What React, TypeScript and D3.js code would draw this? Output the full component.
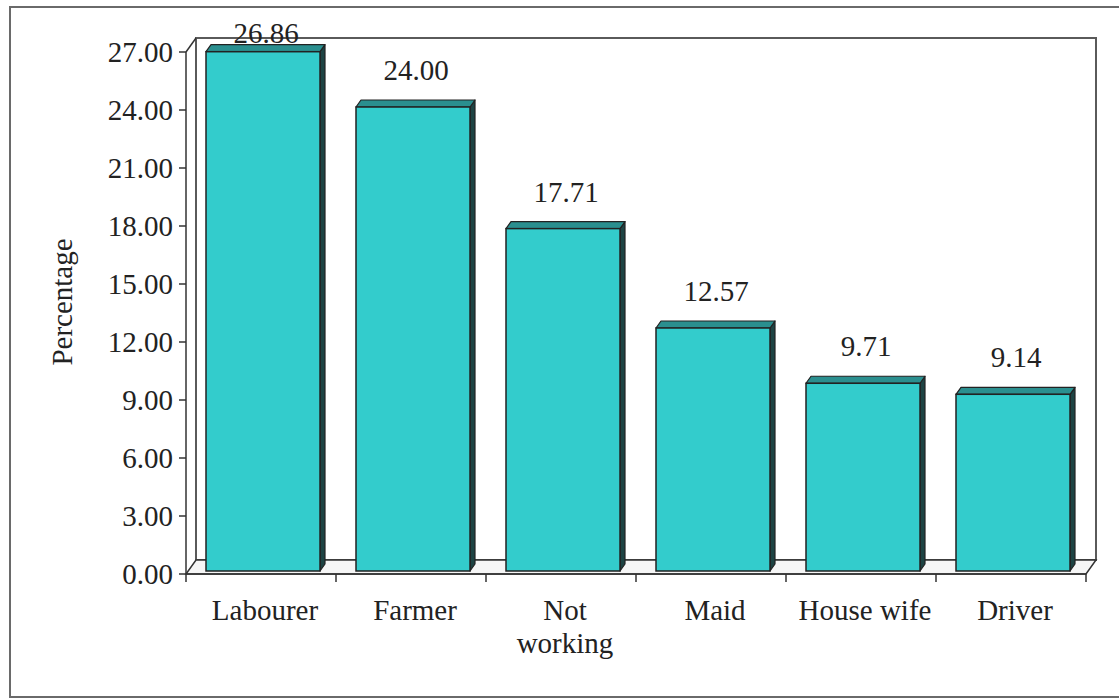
import React from "react";
import * as d3 from "d3";

// Occupation shares (percent)
const categories: string[] = ["Labourer", "Farmer", "Not working", "Maid", "House wife", "Driver"];
const values: number[] = [26.86, 24.0, 17.71, 12.57, 9.71, 9.14];
const yTicks: number[] = [0, 3, 6, 9, 12, 15, 18, 21, 24, 27];

const W = 1119;
const H = 698;
const FONT = "Liberation Serif, Times New Roman, serif";
const FS = 29;

// front plane of the 3D plot
const left = 186;
const right = 1086;
const bottom = 574;
const top = 52;
// depth of the back wall and of each column
const wallDX = 10;
const wallDY = -14;
const faceDX = 2;
const faceDY = -3;
const barDX = 5;
const barDY = -7;

const TEAL = "#33CCCC";
const TEAL_TOP = "#2A8F8F";
const TEAL_SIDE = "#1E4444";
const EDGE = "#222";
const INK = "#222";

export default function App() {
  const y = d3.scaleLinear().domain([0, 27]).range([bottom, top]);
  const x = d3
    .scaleBand<string>()
    .domain(categories)
    .range([left, right])
    .paddingInner(0.24)
    .paddingOuter(0.12);
  const slot = d3.scaleBand<string>().domain(categories).range([left, right]).padding(0);
  const bw = x.bandwidth();

  const pts = (p: [number, number][]) => p.map((d) => d.join(",")).join(" ");

  return (
    <svg
      width={W}
      height={H}
      style={{ position: "absolute", left: 0, top: 0, background: "#fff" }}
    >
      {/* outer frame */}
      <rect x={10} y={7} width={1130} height={690} fill="#fff" stroke="#6a6a6a" strokeWidth={2} />

      {/* back wall */}
      <rect
        x={left + wallDX}
        y={top + wallDY}
        width={right - left}
        height={bottom - top}
        fill="#fff"
        stroke="#5a5a5a"
        strokeWidth={2}
      />
      {/* side wall edge */}
      <line x1={left} y1={top} x2={left + wallDX} y2={top + wallDY} stroke="#333" strokeWidth={1.5} />
      {/* floor */}
      <polygon
        points={pts([
          [left, bottom],
          [right, bottom],
          [right + wallDX, bottom + wallDY],
          [left + wallDX, bottom + wallDY],
        ])}
        fill="#f6f6f6"
        stroke="#333"
        strokeWidth={1.5}
      />

      {/* y axis */}
      <line x1={left} y1={top} x2={left} y2={bottom} stroke="#333" strokeWidth={1.5} />
      {yTicks.map((t) => (
        <g key={t}>
          <line x1={left - 7} x2={left} y1={y(t)} y2={y(t)} stroke="#333" strokeWidth={1.5} />
          <text
            x={173}
            y={y(t)}
            dy="0.35em"
            textAnchor="end"
            fontSize={FS}
            fontFamily={FONT}
            fill={INK}
          >
            {t.toFixed(2)}
          </text>
        </g>
      ))}
      <text
        transform={`translate(62,302) rotate(-90)`}
        textAnchor="middle"
        dy="0.35em"
        fontSize={FS}
        fontFamily={FONT}
        fill={INK}
      >
        Percentage
      </text>

      {/* x axis */}
      <line x1={left} x2={right} y1={bottom} y2={bottom} stroke="#333" strokeWidth={1.5} />
      {[...categories.map((c) => slot(c) as number), right].map((tx, i) => (
        <line key={i} x1={tx} x2={tx} y1={bottom} y2={bottom + 8} stroke="#333" strokeWidth={1.5} />
      ))}

      {/* columns */}
      {categories.map((c, i) => {
        const v = values[i];
        const x0 = (x(c) as number) + faceDX;
        const x1 = x0 + bw;
        const yb = bottom + faceDY;
        const yt = y(v) + faceDY;
        const capTop = yt + barDY;
        const labelY = Math.max(capTop - 20, 43);
        return (
          <g key={c}>
            {/* side */}
            <polygon
              points={pts([
                [x1, yt],
                [x1 + barDX, yt + barDY],
                [x1 + barDX, yb + barDY],
                [x1, yb],
              ])}
              fill={TEAL_SIDE}
              stroke={EDGE}
              strokeWidth={1.2}
              strokeLinejoin="round"
            />
            {/* top */}
            <polygon
              points={pts([
                [x0, yt],
                [x0 + barDX, yt + barDY],
                [x1 + barDX, yt + barDY],
                [x1, yt],
              ])}
              fill={TEAL_TOP}
              stroke={EDGE}
              strokeWidth={1.2}
              strokeLinejoin="round"
            />
            {/* front */}
            <rect x={x0} y={yt} width={bw} height={yb - yt} fill={TEAL} stroke={EDGE} strokeWidth={1.5} />
            <text
              x={x0 + bw / 2 + 3}
              y={labelY}
              textAnchor="middle"
              fontSize={FS}
              fontFamily={FONT}
              fill={INK}
            >
              {v.toFixed(2)}
            </text>
          </g>
        );
      })}

      {/* category labels */}
      {categories.map((c) => {
        const cx = (slot(c) as number) + slot.bandwidth() / 2 + 4;
        const lines = c === "Not working" ? ["Not", "working"] : [c];
        return (
          <text key={c} x={cx} y={620} textAnchor="middle" fontSize={FS} fontFamily={FONT} fill={INK}>
            {lines.map((l, j) => (
              <tspan key={j} x={cx} dy={j === 0 ? 0 : 33}>
                {l}
              </tspan>
            ))}
          </text>
        );
      })}
    </svg>
  );
}
